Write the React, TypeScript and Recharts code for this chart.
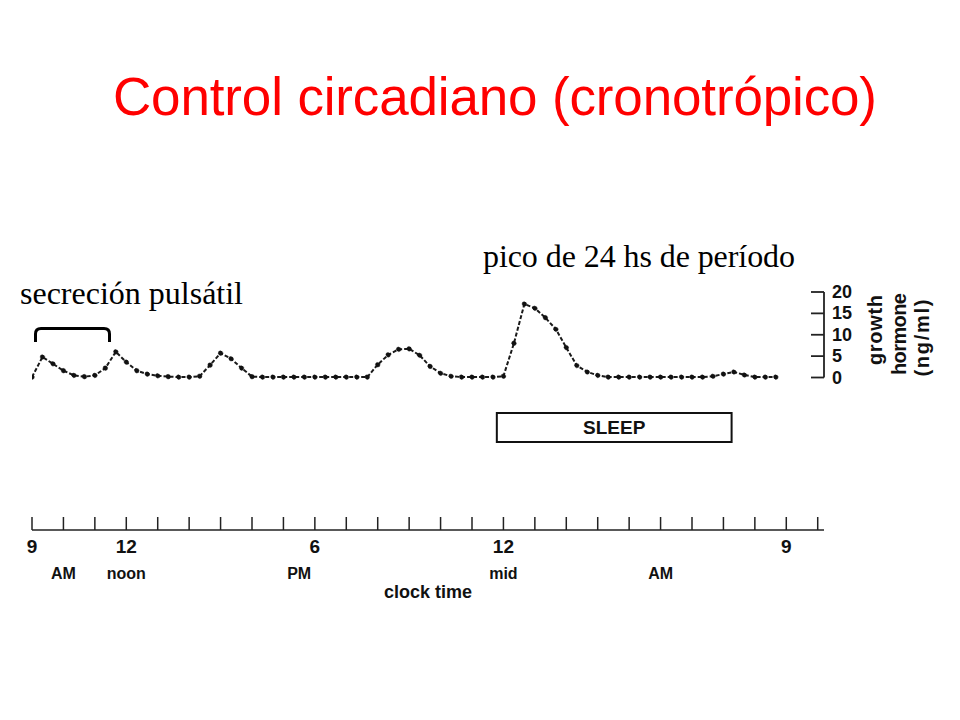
import React from "react";
import {
  ComposedChart,
  Line,
  XAxis,
  YAxis,
  ReferenceArea,
  ReferenceLine,
} from "recharts";

// Growth hormone (ng/ml), one reading every 20 minutes starting at 9 AM
const growthHormone = [
  0.1, 4.8, 3.2, 1.6, 0.5, 0.2, 0.5, 2.2, 6.0, 3.6, 1.6, 0.8, 0.4, 0.2, 0.1, 0.1,
  0.3, 2.9, 5.7, 4.4, 2.2, 0.2,
  0.1, 0.1, 0.1, 0.1, 0.1, 0.1, 0.1, 0.1, 0.1, 0.1, 0.1,
  3.0, 5.3, 6.6, 6.7, 5.2, 2.6, 1.0, 0.3,
  0.1, 0.1, 0.1, 0.1,
  0.3, 8.0, 17.2, 16.2, 14.0, 11.3, 7.0, 2.8, 1.3, 0.5,
  0.1, 0.1, 0.1, 0.1, 0.1, 0.1, 0.1, 0.1, 0.1, 0.1,
  0.3, 0.8, 1.3, 0.6, 0.1, 0.1, 0.1,
];
const sampleStepHours = 1 / 3;

// hours after 9 AM
const hourTicks = [0, 1, 2, 3, 4, 5, 6, 7, 8, 9, 10, 11, 12, 13, 14, 15, 16, 17, 18, 19, 20, 21, 22, 23, 24, 25];
const majorTickHours = [0, 3, 9, 15, 24];
const majorTickLabels = ["9", "12", "6", "12", "9"];
const periodHours = [1, 3, 8.5, 15, 20];
const periodLabels = ["AM", "noon", "PM", "mid", "AM"];
const yTicks = [0, 5, 10, 15, 20];
const sleepStart = 14.79;
const sleepEnd = 22.26;

const data = growthHormone.map((v, i) => ({ t: i * sampleStepHours, gh: v }));

const SANS = "'Liberation Sans', Arial, Helvetica, sans-serif";
const SERIF = "'Liberation Serif', 'Times New Roman', serif";

const HourTick = (props: any) => {
  const { x, y, payload } = props;
  const idx = majorTickHours.indexOf(payload.value);
  return (
    <g>
      <line x1={x} x2={x} y1={y} y2={y - 13} stroke="#222" strokeWidth={1.5} />
      {idx >= 0 && (
        <text
          x={x}
          y={y + 16}
          textAnchor="middle"
          dominantBaseline="central"
          fontFamily={SANS}
          fontSize={19}
          fontWeight={600}
          fill="#111"
        >
          {majorTickLabels[idx]}
        </text>
      )}
    </g>
  );
};

const PeriodTick = (props: any) => {
  const { x, y, payload } = props;
  const idx = periodHours.indexOf(payload.value);
  return (
    <text
      x={x}
      y={y + 13}
      textAnchor="middle"
      dominantBaseline="central"
      fontFamily={SANS}
      fontSize={16}
      fontWeight={600}
      fill="#111"
    >
      {idx >= 0 ? periodLabels[idx] : ""}
    </text>
  );
};

const GhTick = (props: any) => {
  const { x, y, payload } = props;
  return (
    <g>
      <line x1={x - 13} x2={x} y1={y} y2={y} stroke="#222" strokeWidth={1.8} />
      <text
        x={x + 8}
        y={y}
        textAnchor="start"
        dominantBaseline="central"
        fontFamily={SANS}
        fontSize={18}
        fontWeight={600}
        fill="#111"
      >
        {payload.value}
      </text>
    </g>
  );
};

export default function App() {
  return (
    <div style={{ position: "absolute", left: 0, top: 0, width: 960, height: 720, background: "#fff" }}>
      <ComposedChart
        width={960}
        height={720}
        data={data}
        margin={{ top: 292, right: 56, bottom: 120, left: 32 }}
      >
        <XAxis
          dataKey="t"
          type="number"
          domain={[0, 25.2]}
          ticks={hourTicks}
          allowDataOverflow
          interval={0}
          tickLine={false}
          tickSize={0}
          tickMargin={0}
          height={30}
          axisLine={{ stroke: "#222", strokeWidth: 1.5 }}
          tick={<HourTick />}
        />
        <XAxis
          xAxisId="sub"
          dataKey="t"
          type="number"
          domain={[0, 25.2]}
          ticks={periodHours}
          allowDataOverflow
          interval={0}
          tickLine={false}
          tickSize={0}
          tickMargin={0}
          height={40}
          axisLine={false}
          tick={<PeriodTick />}
          label={{
            value: "clock time",
            position: "insideBottom",
            offset: 2,
            fill: "#111",
            fontFamily: SANS,
            fontSize: 18,
            fontWeight: 600,
          }}
        />
        <YAxis
          orientation="right"
          type="number"
          domain={[-35.67, 20]}
          ticks={yTicks}
          allowDataOverflow
          interval={0}
          width={80}
          tickLine={false}
          tickSize={0}
          tickMargin={0}
          axisLine={false}
          tick={<GhTick />}
        />
        <ReferenceLine
          segment={[
            { x: 25.2, y: 0 },
            { x: 25.2, y: 20 },
          ]}
          stroke="#222"
          strokeWidth={1.8}
        />
        <ReferenceArea
          x1={sleepStart}
          x2={sleepEnd}
          y1={-15.1}
          y2={-8.3}
          fill="#fff"
          fillOpacity={1}
          stroke="#111"
          strokeWidth={2}
          label={{
            value: "SLEEP",
            position: "center",
            fill: "#111",
            fontFamily: SANS,
            fontSize: 19,
            fontWeight: 700,
          }}
        />
        <Line
          type="linear"
          dataKey="gh"
          stroke="#1a1a1a"
          strokeWidth={2}
          strokeDasharray="4 2"
          dot={{ r: 2.3, fill: "#111", stroke: "#111", strokeWidth: 0.5 }}
          isAnimationActive={false}
        />
      </ComposedChart>
      <svg
        width={960}
        height={720}
        style={{ position: "absolute", left: 0, top: 0, pointerEvents: "none" }}
      >
        <text
          x={113}
          y={115}
          fill="#ff0000"
          fontFamily={SANS}
          fontSize={53}
          textLength={764}
          lengthAdjust="spacing"
        >
          Control circadiano (cronotrópico)
        </text>
        <text x={20} y={304} fill="#000" fontFamily={SERIF} fontSize={32} textLength={223} lengthAdjust="spacing">
          secreción pulsátil
        </text>
        <text x={483} y={267} fill="#000" fontFamily={SERIF} fontSize={32} textLength={312} lengthAdjust="spacing">
          pico de 24 hs de período
        </text>
        <path
          d="M35.5,342 V334 Q35.5,328.5 41,328.5 H104 Q109.5,328.5 109.5,334 V342"
          fill="none"
          stroke="#000"
          strokeWidth={3}
        />
        <g fontFamily={SANS} fontSize={20} fontWeight={600} fill="#111">
          <text
            x={875}
            y={330}
            transform="rotate(-90 875 330)"
            textAnchor="middle"
            dominantBaseline="central"
            textLength={70}
            lengthAdjust="spacing"
          >
            growth
          </text>
          <text
            x={899}
            y={334}
            transform="rotate(-90 899 334)"
            textAnchor="middle"
            dominantBaseline="central"
            textLength={82}
            lengthAdjust="spacing"
          >
            hormone
          </text>
          <text
            x={922}
            y={338}
            transform="rotate(-90 922 338)"
            textAnchor="middle"
            dominantBaseline="central"
            textLength={77}
            lengthAdjust="spacing"
          >
            (ng/ml)
          </text>
        </g>
      </svg>
    </div>
  );
}
